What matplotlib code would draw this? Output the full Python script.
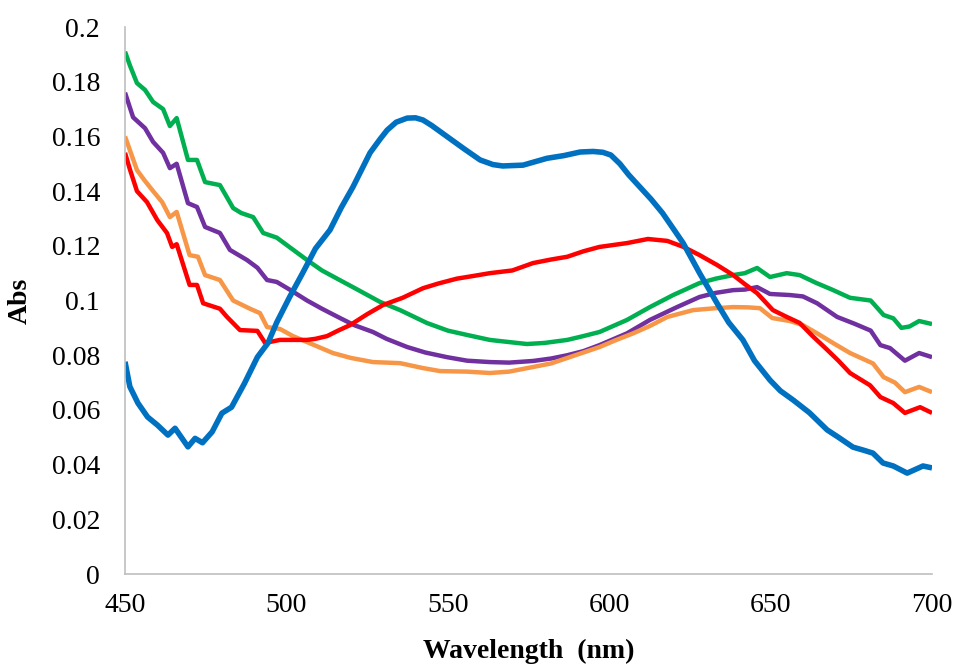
import numpy as np
import matplotlib
matplotlib.use("Agg")
import matplotlib.pyplot as plt

plt.rcParams['font.family'] = ['Liberation Serif', 'DejaVu Serif']

# absorbance spectra, one (wavelength, abs) pair of lists per sample
wl_blue = [450, 451.5, 454, 457, 460, 463.3, 465.5, 469.5, 471.7, 474, 477, 480, 483, 487,
           491, 494.3, 497, 501, 505, 509, 513.5, 517, 520.6, 525.9, 529, 531.2, 534, 537.4, 540,
           542.3, 545, 549.7, 555, 560, 564, 567, 573.3, 580.7, 586, 591, 595, 598, 600.5, 603.3,
           606, 609.5, 613, 616.5, 620, 622.9, 628, 633.4, 637, 641.4, 645, 649.8, 653, 657, 662,
           667.5, 671, 675.5, 679, 681.7, 684.8, 688, 692.3, 697.2, 700]
abs_blue = [0.0776, 0.0685, 0.0625, 0.0574, 0.0545, 0.0508, 0.0533, 0.0465, 0.0496, 0.048,
            0.052, 0.0588, 0.061, 0.0697, 0.0793, 0.0845, 0.092, 0.1013, 0.110, 0.119, 0.1258,
            0.134, 0.1415, 0.154, 0.159, 0.1623, 0.1652, 0.1667, 0.1668, 0.166, 0.164, 0.160,
            0.1555, 0.1514, 0.1497, 0.1492, 0.1495, 0.152, 0.153, 0.1543, 0.1545, 0.1542, 0.1532,
            0.150, 0.146, 0.1415, 0.137, 0.132, 0.126, 0.121, 0.110, 0.099, 0.092, 0.0856, 0.078,
            0.0709, 0.067, 0.0636, 0.059, 0.0527, 0.050, 0.0464, 0.0452, 0.0442, 0.0406, 0.0395,
            0.0369, 0.0395, 0.0388]

wl_green = [450, 451.5, 453.7, 456.2, 458.7, 461.8, 463.9, 466, 469.5, 472.3, 474.8, 479.4,
            483.5, 486, 489.7, 492.8, 497, 501, 506.4, 511, 515.7, 522, 529, 535.2, 543.5, 550,
            556, 563, 566, 574.5, 580, 587, 592, 597, 605.5, 612.6, 619.8, 628, 633, 638.4, 642,
            645.8, 649.8, 655, 659, 664, 669, 674.6, 681, 685, 688, 690.5, 693, 696, 700]
abs_green = [0.191, 0.186, 0.1795, 0.177, 0.1726, 0.170, 0.1638, 0.1667, 0.1514, 0.1514, 0.1433,
             0.1422, 0.1338, 0.132, 0.1305, 0.1247, 0.123, 0.1195, 0.1148, 0.111, 0.108, 0.104,
             0.0995, 0.0965, 0.0918, 0.089, 0.0874, 0.0856, 0.0852, 0.0841, 0.0845, 0.0856,
             0.087, 0.0885, 0.0929, 0.0976, 0.102, 0.1064, 0.108, 0.1093, 0.110, 0.1119, 0.1086,
             0.110, 0.1093, 0.1065, 0.104, 0.101, 0.100, 0.0947, 0.0935, 0.0900, 0.0905, 0.0925,
             0.0914]

wl_purple = [450, 452.5, 456.2, 458.7, 461.8, 463.9, 466, 469.5, 472.3, 474.8, 479.4, 482.5,
             487.8, 491, 494, 497, 501, 506.4, 511, 516.6, 521, 526.8, 531, 537.4, 543, 549.7,
             556, 563, 569, 576.4, 582, 587, 592, 597, 605.5, 612.6, 621, 628, 633, 638.4, 642,
             645.8, 649.8, 656, 660, 664.4, 670.6, 676, 681, 684, 687, 691.6, 696, 700]
abs_purple = [0.176, 0.167, 0.163, 0.158, 0.154, 0.1484, 0.150, 0.1356, 0.1342, 0.1269, 0.1247,
              0.1185, 0.1148, 0.112, 0.1075, 0.1068, 0.104, 0.100, 0.097, 0.0936, 0.091, 0.0885,
              0.086, 0.083, 0.081, 0.0793, 0.078, 0.0775, 0.0773, 0.0779, 0.0788, 0.080, 0.0815,
              0.0837, 0.088, 0.0929, 0.0976, 0.1013, 0.1028, 0.1038, 0.104, 0.1049, 0.1024,
              0.102, 0.1015, 0.099, 0.094, 0.0915, 0.089, 0.0837, 0.0826, 0.078, 0.0808, 0.0793]

wl_orange = [450, 453.7, 456, 458.7, 461.5, 463.9, 466, 470, 472.6, 474.8, 479.4, 483.5, 488.7,
             491.8, 494, 498, 502, 506.4, 510, 514.4, 520, 526.8, 535.2, 542.3, 547.6, 556, 563,
             569, 576.4, 582, 587, 592, 597, 602, 607.4, 612.6, 618, 626, 633, 638.4, 643, 646.7,
             650.5, 656, 660, 664.4, 670, 674.6, 681.7, 685, 688.5, 691.6, 696, 700]
abs_orange = [0.160, 0.1477, 0.144, 0.140, 0.136, 0.1305, 0.1324, 0.1166, 0.116, 0.1093, 0.1075,
              0.100, 0.097, 0.0954, 0.0903, 0.0896, 0.087, 0.0848, 0.083, 0.0808, 0.079, 0.0775,
              0.0771, 0.0753, 0.0742, 0.074, 0.0735, 0.074, 0.0757, 0.077, 0.079, 0.081, 0.083,
              0.0855, 0.088, 0.0907, 0.094, 0.0965, 0.0972, 0.0976, 0.0975, 0.0972, 0.0936,
              0.0925, 0.091, 0.088, 0.084, 0.0808, 0.077, 0.072, 0.070, 0.0665, 0.0684, 0.0665]

wl_red = [450, 451.5, 453.7, 456.8, 460, 463, 464.6, 466, 470, 472.3, 474.2, 479.4, 481.6, 485.6,
          491, 493.4, 498, 506.4, 509, 512.6, 516, 519.7, 525, 530, 536, 542.3, 547, 552.8, 558,
          563, 570, 576.4, 582, 587, 592, 597, 605.5, 612, 618, 623, 628, 633.4, 638.4, 642,
          645.8, 650.7, 655, 659, 663, 667.5, 671, 674.6, 680.8, 684, 688, 691.6, 696.3, 700]
abs_red = [0.154, 0.148, 0.140, 0.136, 0.1294, 0.1247, 0.1196, 0.1206, 0.1057, 0.1057, 0.099,
           0.097, 0.094, 0.0892, 0.0889, 0.0845, 0.0856, 0.0856, 0.086, 0.087, 0.089, 0.091,
           0.095, 0.0984, 0.101, 0.1045, 0.1062, 0.108, 0.109, 0.110, 0.111, 0.1137, 0.115,
           0.116, 0.118, 0.1196, 0.121, 0.1225, 0.1218, 0.1196, 0.1166, 0.113, 0.1093, 0.106,
           0.1027, 0.0965, 0.094, 0.0918, 0.087, 0.082, 0.078, 0.0735, 0.069, 0.0647, 0.0625,
           0.0589, 0.061, 0.0589]

series = [
    (wl_green, abs_green, '#00B050', 3.2),
    (wl_purple, abs_purple, '#7030A0', 3.2),
    (wl_orange, abs_orange, '#F79646', 3.2),
    (wl_red, abs_red, '#FF0000', 3.2),
    (wl_blue, abs_blue, '#0070C0', 4.0),
]

fig = plt.figure(figsize=(9.58, 6.64), dpi=100)
ax = fig.add_axes([0.1305, 0.1355, 0.8424, 0.8238])

for wl, ab, col, lw in series:
    ax.plot(wl, ab, color=col, lw=lw, solid_joinstyle='round', solid_capstyle='butt')

ax.set_xlim(450, 700)
ax.set_ylim(0, 0.2)
ax.set_xticks([450, 500, 550, 600, 650, 700])
ax.set_yticks(np.arange(0, 0.201, 0.02))
ax.set_yticklabels(['0', '0.02', '0.04', '0.06', '0.08', '0.1', '0.12', '0.14',
                    '0.16', '0.18', '0.2'])
ax.tick_params(length=0, labelsize=20)
ax.tick_params(axis='y', pad=18)
ax.tick_params(axis='x', pad=14)

for side in ['top', 'right']:
    ax.spines[side].set_visible(False)
for side in ['left', 'bottom']:
    ax.spines[side].set_color('#BFBFBF')
    ax.spines[side].set_linewidth(1.2)

ax.set_xlabel('Wavelength  (nm)', fontsize=20, fontweight='bold', labelpad=15)
ax.set_ylabel('Abs', fontsize=20, fontweight='bold')
ax.yaxis.set_label_coords(-0.114, 0.5)

fig.savefig('out.png', dpi=100)
